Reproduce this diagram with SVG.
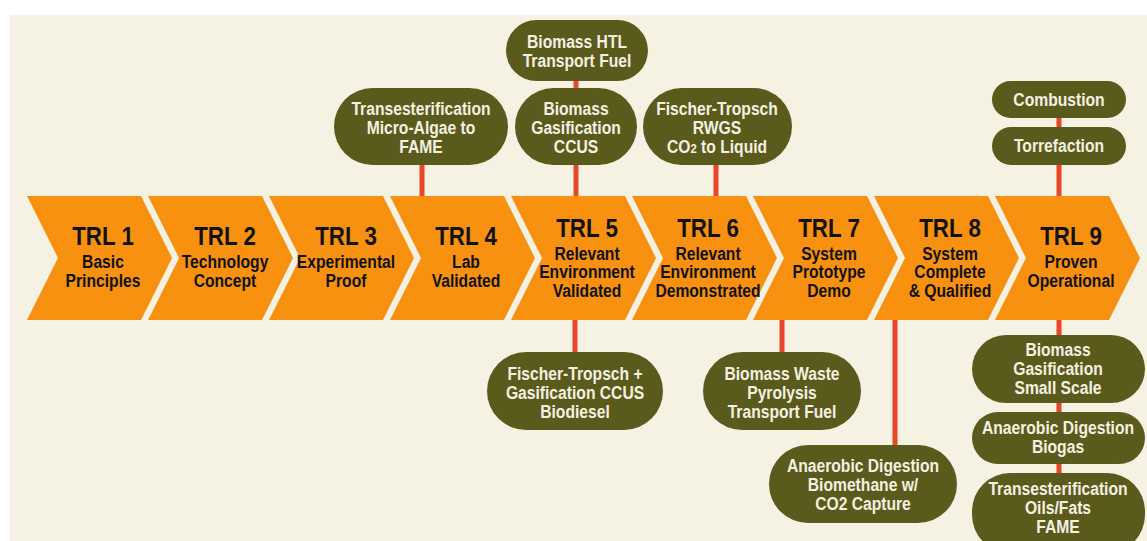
<svg xmlns="http://www.w3.org/2000/svg" width="1147" height="541" viewBox="0 0 1147 541">
<style>
.chev{fill:#F7910F}
.pill{fill:#5A5A1D}
.t{font-family:"Liberation Sans",Arial,sans-serif;font-weight:bold;text-anchor:middle}
.ttl{font-size:26px;fill:#111}
.sub{font-size:18px;fill:#111}
.nt{font-size:18px;fill:#F4F0E0}
.conn line{stroke:#E8472A;stroke-width:5}
</style>
<defs>
<path id="chev" d="M0,196 L114,196 L145,258 L114,320 L0,320 L31,258 Z"/>
</defs>
<rect width="1147" height="541" fill="#FFFFFF"/>
<rect x="10" y="15" width="1137" height="526" fill="#F5F1E3"/>

<g id="connectors" class="conn">
<line x1="422" y1="160" x2="422" y2="198"/>
<line x1="576" y1="75" x2="576" y2="198"/>
<line x1="716" y1="160" x2="716" y2="198"/>
<line x1="1059" y1="95" x2="1059" y2="198"/>
<line x1="575" y1="318" x2="575" y2="356"/>
<line x1="782" y1="318" x2="782" y2="356"/>
<line x1="895" y1="318" x2="895" y2="450"/>
<line x1="1059" y1="318" x2="1059" y2="480"/>
</g>

<g id="trl1"><use href="#chev" class="chev" x="27"/>
<text class="t ttl" transform="matrix(0.86 0 0 1 103 0)" y="245">TRL 1</text>
<text class="t sub" transform="matrix(0.87 0 0 1 103 0)"><tspan x="0" y="268.5">Basic</tspan><tspan x="0" y="287.5">Principles</tspan></text></g>
<g id="trl2"><use href="#chev" class="chev" x="148"/>
<text class="t ttl" transform="matrix(0.86 0 0 1 225 0)" y="245">TRL 2</text>
<text class="t sub" transform="matrix(0.87 0 0 1 225 0)"><tspan x="0" y="268.5">Technology</tspan><tspan x="0" y="287.5">Concept</tspan></text></g>
<g id="trl3"><use href="#chev" class="chev" x="269"/>
<text class="t ttl" transform="matrix(0.86 0 0 1 346 0)" y="245">TRL 3</text>
<text class="t sub" transform="matrix(0.87 0 0 1 346 0)"><tspan x="0" y="268.5">Experimental</tspan><tspan x="0" y="287.5">Proof</tspan></text></g>
<g id="trl4"><use href="#chev" class="chev" x="390"/>
<text class="t ttl" transform="matrix(0.86 0 0 1 466 0)" y="245">TRL 4</text>
<text class="t sub" transform="matrix(0.87 0 0 1 466 0)"><tspan x="0" y="268.5">Lab</tspan><tspan x="0" y="287.5">Validated</tspan></text></g>
<g id="trl5"><use href="#chev" class="chev" x="511"/>
<text class="t ttl" transform="matrix(0.86 0 0 1 587 0)" y="237">TRL 5</text>
<text class="t sub" transform="matrix(0.87 0 0 1 587 0)"><tspan x="0" y="260">Relevant</tspan><tspan x="0" y="278.5">Environment</tspan><tspan x="0" y="297">Validated</tspan></text></g>
<g id="trl6"><use href="#chev" class="chev" x="632"/>
<text class="t ttl" transform="matrix(0.86 0 0 1 708 0)" y="237">TRL 6</text>
<text class="t sub" transform="matrix(0.87 0 0 1 708 0)"><tspan x="0" y="260">Relevant</tspan><tspan x="0" y="278.5">Environment</tspan><tspan x="0" y="297">Demonstrated</tspan></text></g>
<g id="trl7"><use href="#chev" class="chev" x="753"/>
<text class="t ttl" transform="matrix(0.86 0 0 1 829 0)" y="237">TRL 7</text>
<text class="t sub" transform="matrix(0.87 0 0 1 829 0)"><tspan x="0" y="260">System</tspan><tspan x="0" y="278.5">Prototype</tspan><tspan x="0" y="297">Demo</tspan></text></g>
<g id="trl8"><use href="#chev" class="chev" x="874"/>
<text class="t ttl" transform="matrix(0.86 0 0 1 950 0)" y="237">TRL 8</text>
<text class="t sub" transform="matrix(0.87 0 0 1 950 0)"><tspan x="0" y="260">System</tspan><tspan x="0" y="278.5">Complete</tspan><tspan x="0" y="297">&amp; Qualified</tspan></text></g>
<g id="trl9"><use href="#chev" class="chev" x="995"/>
<text class="t ttl" transform="matrix(0.86 0 0 1 1071 0)" y="245">TRL 9</text>
<text class="t sub" transform="matrix(0.87 0 0 1 1071 0)"><tspan x="0" y="268.5">Proven</tspan><tspan x="0" y="287.5">Operational</tspan></text></g>

<g id="n-htl"><rect class="pill" x="506" y="20" width="142" height="61" rx="30.5"/>
<text class="t nt" transform="matrix(0.87 0 0 1 577 0)"><tspan x="0" y="48">Biomass HTL</tspan><tspan x="0" y="67">Transport Fuel</tspan></text></g>
<g id="n-tmaf"><rect class="pill" x="334" y="88" width="174" height="77" rx="38.5"/>
<text class="t nt" transform="matrix(0.87 0 0 1 421 0)"><tspan x="0" y="115">Transesterification</tspan><tspan x="0" y="134">Micro-Algae to</tspan><tspan x="0" y="153">FAME</tspan></text></g>
<g id="n-bgc"><rect class="pill" x="515" y="88" width="122" height="77" rx="38.5"/>
<text class="t nt" transform="matrix(0.87 0 0 1 576 0)"><tspan x="0" y="115">Biomass</tspan><tspan x="0" y="134">Gasification</tspan><tspan x="0" y="153">CCUS</tspan></text></g>
<g id="n-ft"><rect class="pill" x="643" y="88" width="149" height="77" rx="38.5"/>
<text class="t nt" transform="matrix(0.87 0 0 1 717 0)"><tspan x="0" y="115">Fischer-Tropsch</tspan><tspan x="0" y="134">RWGS</tspan><tspan x="0" y="153">CO<tspan font-size="13">2</tspan> to Liquid</tspan></text></g>
<g id="n-comb"><rect class="pill" x="992" y="81" width="134" height="37" rx="18.5"/>
<text class="t nt" transform="matrix(0.87 0 0 1 1059 0)" x="0" y="106">Combustion</text></g>
<g id="n-torr"><rect class="pill" x="992" y="127" width="134" height="38" rx="19"/>
<text class="t nt" transform="matrix(0.87 0 0 1 1059 0)" x="0" y="152">Torrefaction</text></g>
<g id="n-ftg"><rect class="pill" x="487" y="352" width="176" height="78" rx="39"/>
<text class="t nt" transform="matrix(0.87 0 0 1 575 0)"><tspan x="0" y="380">Fischer-Tropsch +</tspan><tspan x="0" y="399">Gasification CCUS</tspan><tspan x="0" y="418">Biodiesel</tspan></text></g>
<g id="n-bwp"><rect class="pill" x="703" y="352" width="158" height="78" rx="39"/>
<text class="t nt" transform="matrix(0.87 0 0 1 782 0)"><tspan x="0" y="380">Biomass Waste</tspan><tspan x="0" y="399">Pyrolysis</tspan><tspan x="0" y="418">Transport Fuel</tspan></text></g>
<g id="n-adb"><rect class="pill" x="769" y="445" width="188" height="78" rx="39"/>
<text class="t nt" transform="matrix(0.87 0 0 1 863 0)"><tspan x="0" y="472">Anaerobic Digestion</tspan><tspan x="0" y="491">Biomethane w/</tspan><tspan x="0" y="510">CO2 Capture</tspan></text></g>
<g id="n-bgss"><rect class="pill" x="972" y="335" width="173" height="68" rx="34"/>
<text class="t nt" transform="matrix(0.87 0 0 1 1058 0)"><tspan x="0" y="356">Biomass</tspan><tspan x="0" y="375">Gasification</tspan><tspan x="0" y="394">Small Scale</tspan></text></g>
<g id="n-adbio"><rect class="pill" x="972" y="412" width="173" height="52" rx="26"/>
<text class="t nt" transform="matrix(0.87 0 0 1 1058 0)"><tspan x="0" y="434">Anaerobic Digestion</tspan><tspan x="0" y="453">Biogas</tspan></text></g>
<g id="n-tof"><rect class="pill" x="972" y="473" width="173" height="80" rx="38"/>
<text class="t nt" transform="matrix(0.87 0 0 1 1058 0)"><tspan x="0" y="495">Transesterification</tspan><tspan x="0" y="514">Oils/Fats</tspan><tspan x="0" y="533">FAME</tspan></text></g>
</svg>
